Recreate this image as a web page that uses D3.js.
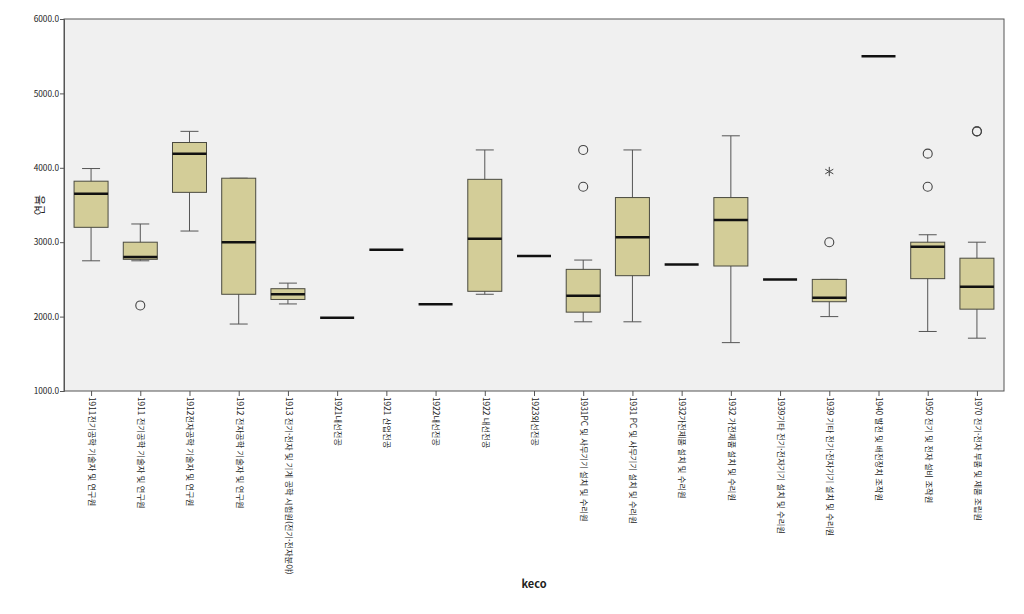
<!DOCTYPE html>
<html lang="ko">
<head>
    <meta charset="utf-8">
    <title>keco 연봉 boxplot</title>
    <script src="https://d3js.org/d3.v7.min.js"></script>
    <style>
        body { margin: 0; background: #fff; }
        text { font-family: "Noto Sans CJK KR", "DejaVu Sans", sans-serif; fill: #222; }
        .tick text { font-size: 8.3px; }
    </style>
</head>
<body>
<script>
    const categories = [
        "1911전기공학 기술자 및 연구원",
        "1911 전기공학 기술자 및 연구원",
        "1912전자공학 기술자 및 연구원",
        "1912 전자공학 기술자 및 연구원",
        "1913 전기·전자 및 기계 공학 시험원(전기·전자분야)",
        "1921내선전공",
        "1921 산업전공",
        "1922내선전공",
        "1922 내선전공",
        "1923외선전공",
        "1931PC 및 사무기기 설치 및 수리원",
        "1931 PC 및 사무기기 설치 및 수리원",
        "1932가전제품 설치 및 수리원",
        "1932 가전제품 설치 및 수리원",
        "1939기타 전기·전자기기 설치 및 수리원",
        "1939 기타 전기·전자기기 설치 및 수리원",
        "1940 발전 및 배전장치 조작원",
        "1950 전기 및 전자 설비 조작원",
        "1970 전기·전자 부품 및 제품 조립원"
    ];
    // null = only one case (drawn as a single median line)
    const whiskerLow  = [2750, 2750, 3150, 1900, 2170, null, null, null, 2300, null, 1930, 1930, null, 1650, null, 2000, null, 1800, 1710];
    const q1          = [3200, 2770, 3670, 2300, 2230, null, null, null, 2340, null, 2060, 2550, null, 2680, null, 2200, null, 2510, 2100];
    const median      = [3650, 2800, 4190, 3000, 2300, 1985, 2900, 2165, 3045, 2815, 2280, 3065, 2700, 3300, 2500, 2255, 5500, 2940, 2400];
    const q3          = [3820, 3000, 4340, 3860, 2375, null, null, null, 3845, null, 2635, 3600, null, 3600, null, 2500, null, 3000, 2785];
    const whiskerHigh = [3990, 3245, 4490, 3860, 2450, null, null, null, 4240, null, 2760, 4240, null, 4430, null, 2500, null, 3100, 3000];
    const outliers = [
        [1, 2150], [10, 4240], [10, 3745], [15, 3000], [17, 4190], [17, 3745], [18, 4490], [18, 4490]
    ];
    const extremes = [[15, 3950]];
    const yTicks = [1000, 2000, 3000, 4000, 5000, 6000];

    const W = 1024, H = 614;
    const mLeft = 64, mRight = 1004, mTop = 19, mBottom = 391;

    const svg = d3.select("body").append("svg").attr("width", W).attr("height", H);

    const x = d3.scalePoint().domain(d3.range(categories.length))
            .range([mLeft, mRight]).padding(0.55);
    const y = d3.scaleLinear().domain([1000, 6000]).range([mBottom, mTop]);
    const bw = 34;

    svg.append("rect").attr("x", mLeft).attr("y", mTop)
            .attr("width", mRight - mLeft).attr("height", mBottom - mTop)
            .attr("fill", "#f0f0f0").attr("stroke", "#555").attr("stroke-width", 1);

    // y axis
    const yAxis = d3.axisLeft(y).tickValues(yTicks).tickSize(4).tickFormat(d3.format(".1f"));
    const gy = svg.append("g").attr("transform", `translate(${mLeft},0)`).call(yAxis);
    gy.select(".domain").attr("stroke", "#555");
    gy.selectAll(".tick line").attr("stroke", "#555");
    gy.selectAll(".tick text").attr("x", -5).attr("fill", "#333");

    // x axis
    const xAxis = d3.axisBottom(x).tickSize(5).tickFormat(i => categories[i]);
    const gx = svg.append("g").attr("transform", `translate(0,${mBottom})`).call(xAxis);
    gx.select(".domain").remove();
    gx.selectAll(".tick line").attr("stroke", "#555");
    gx.selectAll(".tick text")
            .attr("transform", "rotate(90)")
            .attr("x", 6).attr("y", 0).attr("dy", "0.32em")
            .attr("text-anchor", "start").attr("fill", "#333");

    const g = svg.append("g");
    categories.forEach((c, i) => {
        const cx = x(i);
        if (q1[i] !== null) {
            g.append("line").attr("x1", cx).attr("x2", cx)
                    .attr("y1", y(whiskerLow[i])).attr("y2", y(whiskerHigh[i]))
                    .attr("stroke", "#555");
            [whiskerLow[i], whiskerHigh[i]].forEach(v => {
                g.append("line").attr("x1", cx - 9).attr("x2", cx + 9)
                        .attr("y1", y(v)).attr("y2", y(v)).attr("stroke", "#555");
            });
            g.append("rect").attr("x", cx - bw / 2).attr("y", y(q3[i]))
                    .attr("width", bw).attr("height", y(q1[i]) - y(q3[i]))
                    .attr("fill", "#d3cd98").attr("stroke", "#4a4a40").attr("stroke-width", 1);
        }
        g.append("line").attr("x1", cx - bw / 2).attr("x2", cx + bw / 2)
                .attr("y1", y(median[i])).attr("y2", y(median[i]))
                .attr("stroke", "#111").attr("stroke-width", 2.5);
    });

    g.selectAll("circle.out").data(outliers).join("circle")
            .attr("class", "out")
            .attr("cx", d => x(d[0])).attr("cy", d => y(d[1])).attr("r", 4.5)
            .attr("fill", "none").attr("stroke", "#444").attr("stroke-width", 1.1);

    g.selectAll("path.ext").data(extremes).join("path")
            .attr("class", "ext")
            .attr("transform", d => `translate(${x(d[0])},${y(d[1])})`)
            .attr("d", d3.symbol(d3.symbolAsterisk, 60))
            .attr("fill", "none").attr("stroke", "#444").attr("stroke-width", 1);

    svg.append("text").attr("transform", `translate(44,${(mTop + mBottom) / 2}) rotate(-90)`)
            .attr("text-anchor", "middle").attr("font-size", 11).text("연봉");

    svg.append("text").attr("x", (mLeft + mRight) / 2).attr("y", 588)
            .attr("text-anchor", "middle").attr("font-size", 11).attr("font-weight", "bold")
            .text("keco");
</script>
</body>
</html>
